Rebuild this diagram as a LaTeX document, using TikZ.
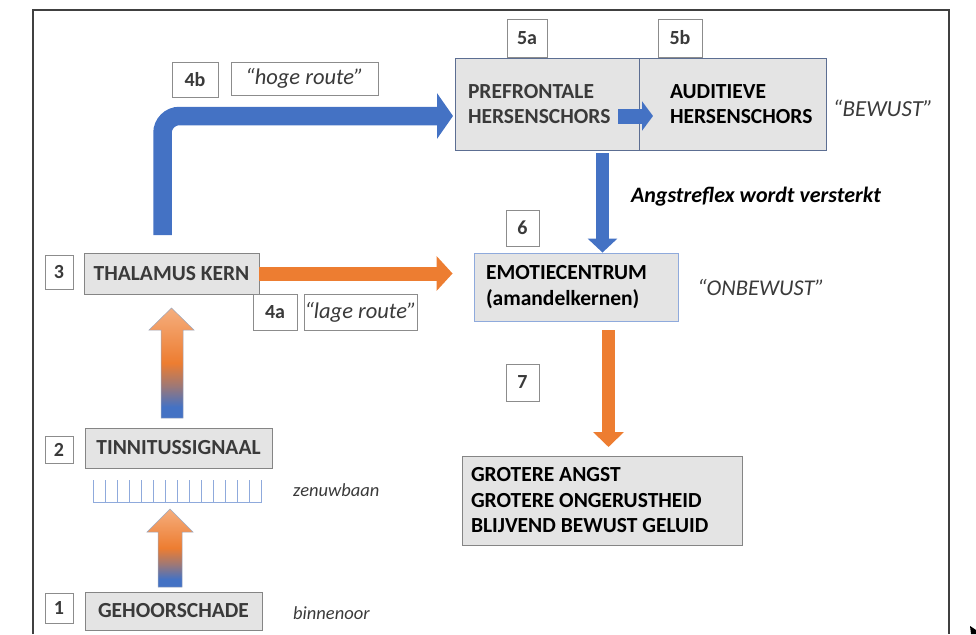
\documentclass[tikz,border=0pt]{standalone}
\usepackage{fontspec}
\setmainfont{Carlito}
\usetikzlibrary{arrows.meta,calc}
\definecolor{myblue}{HTML}{4472C4}
\definecolor{myorange}{HTML}{ED7D31}
\definecolor{orlight}{HTML}{F5AE7E}
\definecolor{tickblue}{HTML}{8FAADC}
\definecolor{boxfill}{HTML}{E4E4E4}
\definecolor{boxborder}{HTML}{858585}
\definecolor{numborder}{HTML}{8C8C8C}
\definecolor{slate}{HTML}{5C6E92}
\definecolor{txtgray}{HTML}{3A3A3A}
\definecolor{framec}{HTML}{404040}
\pgfdeclareverticalshading{tinshade}{100bp}{color(0bp)=(myblue); color(25bp)=(myblue); color(30bp)=(myblue); color(40bp)=(myblue!45!myorange); color(50bp)=(myorange); color(75bp)=(orlight); color(100bp)=(orlight)}
\begin{document}
\begin{tikzpicture}[x=1pt,y=-1pt,
  numbox/.style={draw=numborder, fill=white, line width=0.9pt, inner sep=0pt,
    font=\fontsize{20}{23}\selectfont\bfseries, text=txtgray},
  graybox/.style={draw=boxborder, fill=boxfill, line width=0.9pt, inner sep=0pt,
    font=\fontsize{21.5}{25.5}\selectfont\bfseries, text=txtgray},
  labelbox/.style={draw=numborder, fill=white, line width=0.9pt, inner sep=0pt,
    font=\fontsize{22.5}{25}\selectfont\itshape, text=txtgray},
  note/.style={inner sep=0pt, font=\fontsize{18.5}{22}\selectfont\itshape, text=txtgray},
  bignote/.style={inner sep=0pt, font=\fontsize{23}{26}\selectfont\itshape, text=txtgray},
  gradarrow/.style={shading=tinshade, draw=slate!60, line width=0.5pt}
]
\useasboundingbox (0,0) rectangle (976,634);
% frame
\draw[framec, line width=1.5pt] (33,634) -- (33,10) -- (949,10) -- (949,634);

% left column
\node[numbox, minimum width=28pt, minimum height=30pt] (n1) at (59,608) {1};
\node[numbox, minimum width=28pt, minimum height=27pt] (n2) at (59,450) {2};
\node[numbox, minimum width=28pt, minimum height=34pt] (n3) at (59,272) {3};
\node[graybox, minimum width=177pt, minimum height=38pt] (gehoor) at (173.5,611) {GEHOORSCHADE};
\node[graybox, minimum width=187pt, minimum height=40pt] (tinn) at (178.5,448) {TINNITUSSIGNAAL};
\node[graybox, minimum width=175pt, minimum height=41pt] (thal) at (171.5,273.5) {THALAMUS KERN};
\node[note, anchor=west] (zen) at (293,490) {zenuwbaan};
\node[note, anchor=west] (binn) at (293,613) {binnenoor};

% nerve ticks
\draw[tickblue, line width=1pt] (93,502) -- (262,502);
\foreach \i in {0,...,14} \draw[tickblue, line width=1pt] ({93+\i*12.07},480) -- ({93+\i*12.07},502);

% gradient arrows
\shade[gradarrow] (158,587) -- (158,532) -- (147,532) -- (170,509) -- (193,532) -- (182,532) -- (182,587) -- cycle;
\shade[gradarrow] (161,418) -- (161,330) -- (149,330) -- (171.5,308) -- (194,330) -- (183,330) -- (183,418) -- cycle;

% route labels
\node[numbox, minimum width=44pt, minimum height=36pt] (n4a) at (275,312) {4a};
\node[labelbox, minimum width=113pt, minimum height=36pt] (lage) at (360.5,312) {“lage route”};
\node[numbox, minimum width=46pt, minimum height=35pt] (n4b) at (195,79.5) {4b};
\node[labelbox, minimum width=147pt, minimum height=33pt] (hoge) at (304.5,78.5) {“hoge route”};

% cortex boxes
\node[graybox, draw=slate, minimum width=184pt, minimum height=92pt, text width=158pt, align=flush left] (pref) at (547,104) {PREFRONTALE\\HERSENSCHORS};
\node[graybox, draw=slate, text=black, minimum width=187pt, minimum height=92pt, text width=180pt, align=flush left] (aud) at (732.5,104) {\hspace*{27.5pt}AUDITIEVE\\\hspace*{27.5pt}HERSENSCHORS};
\node[numbox, minimum width=40pt, minimum height=38pt] (n5a) at (527,38) {5a};
\node[numbox, minimum width=44pt, minimum height=38pt] (n5b) at (680,38) {5b};
\node[bignote] (bewust) at (883,108) {“BEWUST”};

% emotion centre
\node[graybox, draw=tickblue, text=black, minimum width=204pt, minimum height=68pt, text width=180pt, align=flush left] (emo) at (576,287) {EMOTIECENTRUM\\(amandelkernen)};
\node[numbox, minimum width=33pt, minimum height=36pt] (n6) at (522.5,228) {6};
\node[bignote, font=\fontsize{22.5}{26}\selectfont\itshape] (onbewust) at (761,287) {“ONBEWUST”};
\node[note, font=\fontsize{22}{25}\selectfont\bfseries\itshape, text=black] (angst) at (756,197) {Angstreflex wordt versterkt};

% result
\node[numbox, minimum width=33pt, minimum height=37pt] (n7) at (522.5,382.5) {7};
\node[graybox, text=black, minimum width=280pt, minimum height=89pt, text width=262pt, align=flush left] (res) at (602,500.5) {GROTERE ANGST\\GROTERE ONGERUSTHEID\\BLIJVEND BEWUST GELUID};

% connectors
\coordinate (b0) at (162.5,235);
\coordinate (b1) at (162.5,116);
\coordinate (b2) at (453,116);
\draw[myblue, line width=18.5pt, rounded corners=17pt, -{Triangle[length=16pt,width=45pt]}] (b0) -- (b1) -- (b2);

\draw[myorange, line width=14pt, -{Triangle[length=16pt,width=34pt]}, shorten >=21pt] (thal.east) -- (thal.east -| emo.west);

\coordinate (p6) at (602.5,153);
\draw[myblue, line width=13pt, -{Triangle[length=14pt,width=29pt]}] (p6) -- (p6 |- emo.north);

\coordinate (e7) at (608.5,330);
\draw[myorange, line width=13pt, -{Triangle[length=15pt,width=30pt]}] (e7) -- (608.5,447);

\coordinate (pa) at (618,116);
\draw[myblue, line width=15pt, -{Triangle[length=11pt,width=29pt]}] (pa) -- (653,116);

% cursor remnant
\fill[black] (970,626) -- (976,630) -- (976,634) -- (971,634) -- cycle;
\end{tikzpicture}
\end{document}
